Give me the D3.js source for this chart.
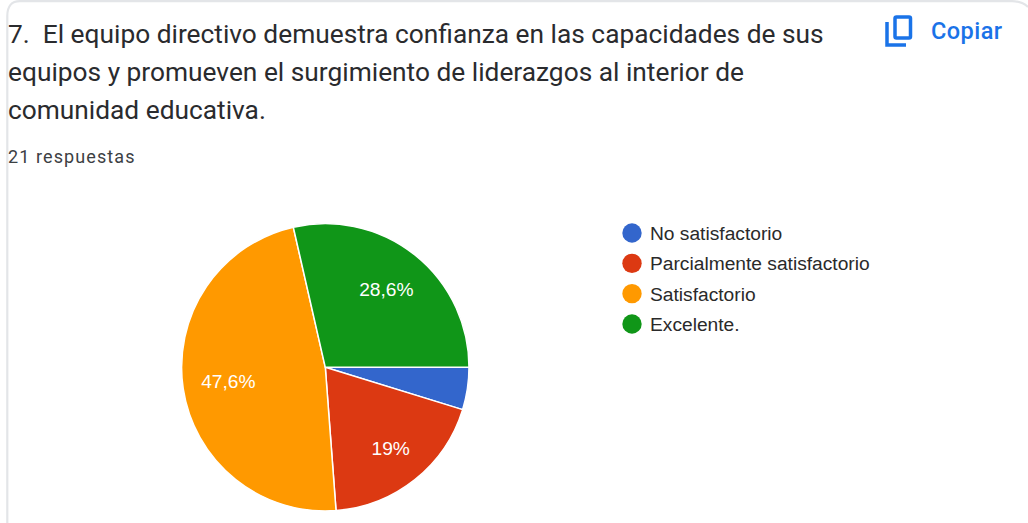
<!DOCTYPE html>
<html lang="es">
<meta charset="utf-8">
<title>Respuestas pregunta 7</title>
<style>
  html, body { margin: 0; padding: 0; background: #fff; overflow: hidden; }
  svg { display: block; }
</style>
<body>
  <script src="https://d3js.org/d3.v7.min.js"></script>
  <script>
    const width = 1028;
    const height = 523;

    // Chart data
    const categories = ["No satisfactorio", "Parcialmente satisfactorio", "Satisfactorio", "Excelente."];
    const responses = [1, 4, 10, 6];
    const sliceLabels = ["", "19%", "47,6%", "28,6%"];
    const colors = ["#3366cc", "#dc3912", "#ff9900", "#109618"];
    const titleLines = [
      "7.  El equipo directivo demuestra confianza en las capacidades de sus",
      "equipos y promueven el surgimiento de liderazgos al interior de",
      "comunidad educativa."
    ];
    const subtitle = "21 respuestas";

    const svg = d3.select("body")
      .append("svg")
      .attr("width", width)
      .attr("height", height);

    // Card outline, open at the bottom
    svg.append("path")
      .attr("d", "M7.3,523 V16 Q7.3,1.2 20,1.2 H1012 Q1022,1.2 1028,7")
      .attr("fill", "none")
      .attr("stroke", "#e3e5e8")
      .attr("stroke-width", 2.2);

    // Question title
    svg.append("g")
      .selectAll("text")
      .data(titleLines)
      .enter()
      .append("text")
      .attr("x", 8)
      .attr("y", (d, i) => 43 + i * 38.2)
      .attr("font-family", "Roboto")
      .attr("font-size", 26.3)
      .attr("fill", "#2a2b2e")
      .style("white-space", "pre")
      .text(d => d);

    svg.append("text")
      .attr("x", 8)
      .attr("y", 163)
      .attr("font-family", "Roboto")
      .attr("font-size", 18)
      .attr("letter-spacing", 1.1)
      .attr("fill", "#3c4043")
      .text(subtitle);

    // Copy button
    const copy = svg.append("g").attr("fill", "none").attr("stroke", "#1a73e8").attr("stroke-width", 3.5);
    copy.append("rect")
      .attr("x", 895).attr("y", 17).attr("width", 15.5).attr("height", 21).attr("rx", 1.5);
    copy.append("path")
      .attr("d", "M887,22 V45 H906");

    svg.append("text")
      .attr("x", 931)
      .attr("y", 39)
      .attr("font-family", "Roboto")
      .attr("font-weight", 500)
      .attr("font-size", 23.5)
      .attr("letter-spacing", 0.45)
      .attr("fill", "#1a73e8")
      .text("Copiar");

    // Pie, starting at 3 o'clock and going clockwise
    const radius = 143.7;
    const labelRadius = 98;
    const pie = d3.pie()
      .sort(null)
      .startAngle(Math.PI / 2)
      .endAngle(Math.PI * 2.5)
      .value(d => d);
    const arc = d3.arc().innerRadius(0).outerRadius(radius);
    const labelArc = d3.arc().innerRadius(labelRadius).outerRadius(labelRadius);

    const slices = svg.append("g")
      .attr("transform", "translate(325.3, 367.3)");

    const arcs = pie(responses);

    slices.selectAll("path")
      .data(arcs)
      .enter()
      .append("path")
      .attr("d", arc)
      .attr("fill", (d, i) => colors[i])
      .attr("stroke", "#fff")
      .attr("stroke-width", 1.5);

    // the 19% label sits a little further out than the others
    slices.selectAll("text")
      .data(arcs)
      .enter()
      .append("text")
      .attr("transform", (d, i) => {
        const c = labelArc.centroid(d);
        const k = i === 1 ? 1.07 : 1;
        return "translate(" + (c[0] * k) + "," + (c[1] * k) + ")";
      })
      .attr("text-anchor", "middle")
      .attr("dy", "0.3em")
      .attr("font-family", "Liberation Sans")
      .attr("font-size", 19.2)
      .attr("fill", "#fff")
      .text((d, i) => sliceLabels[i]);

    // Legend
    const legendY = d3.scalePoint()
      .domain(categories)
      .range([233, 324]);

    const legend = svg.append("g")
      .selectAll("g")
      .data(categories)
      .enter()
      .append("g")
      .attr("transform", d => "translate(632," + legendY(d) + ")");

    legend.append("circle")
      .attr("r", 9.7)
      .attr("fill", (d, i) => colors[i]);

    legend.append("text")
      .attr("x", 18)
      .attr("dy", "0.36em")
      .attr("font-family", "Liberation Sans")
      .attr("font-size", 19.2)
      .attr("fill", "#2a2a2a")
      .text(d => d);
  </script>
</body>
</html>
